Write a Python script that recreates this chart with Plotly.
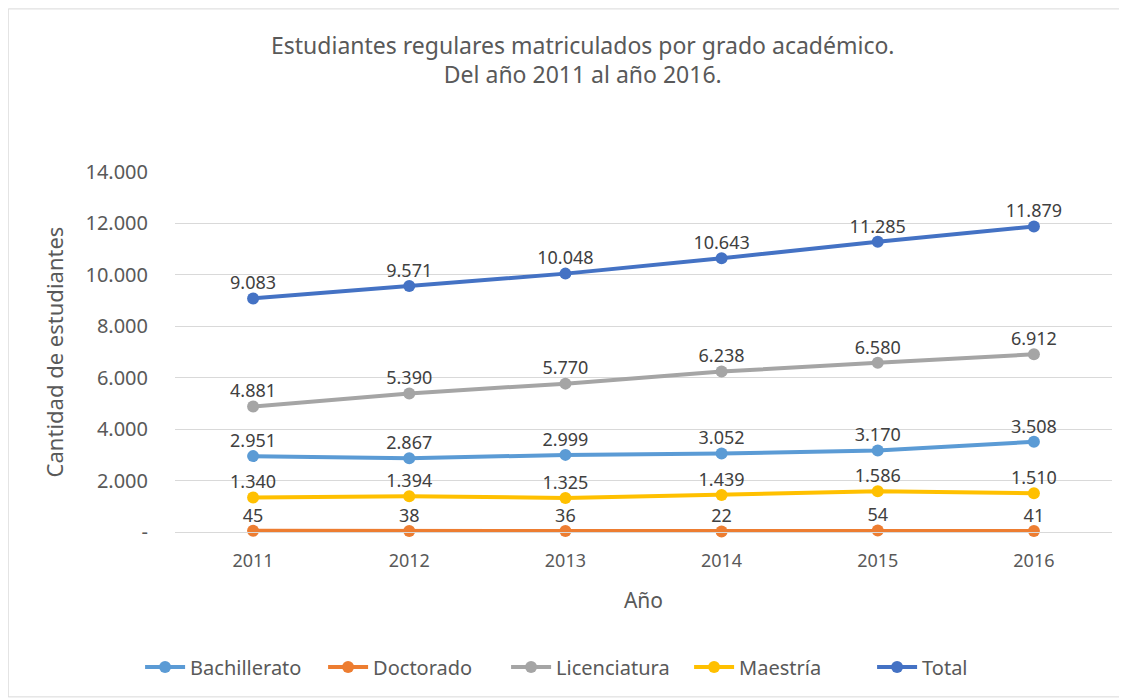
import plotly.graph_objects as go

years = ["2011", "2012", "2013", "2014", "2015", "2016"]
bachillerato = [2951, 2867, 2999, 3052, 3170, 3508]
doctorado = [45, 38, 36, 22, 54, 41]
licenciatura = [4881, 5390, 5770, 6238, 6580, 6912]
maestria = [1340, 1394, 1325, 1439, 1586, 1510]
total = [9083, 9571, 10048, 10643, 11285, 11879]

series = [
    ("Bachillerato", bachillerato, "#5B9BD5"),
    ("Doctorado", doctorado, "#ED7D31"),
    ("Licenciatura", licenciatura, "#A5A5A5"),
    ("Maestría", maestria, "#FFC000"),
    ("Total", total, "#4472C4"),
]

ytick_vals = [0, 2000, 4000, 6000, 8000, 10000, 12000, 14000]
ytick_text = ["-", "2.000", "4.000", "6.000", "8.000", "10.000", "12.000", "14.000"]

txt_font = "Noto Sans, Open Sans, sans-serif"
gray = "#595959"

fig = go.Figure()
for name, vals, color in series:
    fig.add_trace(go.Scatter(
        x=years, y=vals, name=name, mode="lines+markers",
        line=dict(color=color, width=4),
        marker=dict(color=color, size=12),
        cliponaxis=False,
    ))
for name, vals, color in series:
    fig.add_trace(go.Scatter(
        x=years, y=vals, name=name, mode="markers+text", showlegend=False,
        marker=dict(size=6, color="rgba(0,0,0,0)"),
        texttemplate="%{y:,}", textposition="top center",
        textfont=dict(family=txt_font, size=18, color="#404040"),
        cliponaxis=False, hoverinfo="skip",
    ))

fig.update_layout(
    width=1127, height=700,
    paper_bgcolor="white", plot_bgcolor="white",
    separators=",.",
    margin=dict(l=167, r=23, t=164, b=176, autoexpand=False),
    title=dict(
        text="Estudiantes regulares matriculados por grado académico.<br>Del año 2011 al año 2016.",
        x=0.51, xanchor="center", y=0.935, yanchor="top",
        font=dict(family=txt_font, size=23, color=gray),
    ),
    xaxis=dict(
        type="category", range=[-0.5, 5.5], automargin=False,
        showgrid=False, showline=True, linecolor="#D9D9D9", linewidth=1,
        ticks="", ticklabelstandoff=12, tickfont=dict(family=txt_font, size=18, color=gray),
        title=dict(text="Año", font=dict(family=txt_font, size=21, color=gray), standoff=22),
    ),
    yaxis=dict(
        range=[0, 14000], tickvals=ytick_vals, ticktext=ytick_text, automargin=False,
        showgrid=True, gridcolor="#D9D9D9", gridwidth=1, zeroline=False,
        ticks="", ticklabelstandoff=26,
        tickfont=dict(family=txt_font, size=20, color=gray),
        title=dict(text="Cantidad de estudiantes", font=dict(family=txt_font, size=22, color=gray), standoff=15),
    ),
    legend=dict(
        orientation="h", x=0.451, xanchor="center",
        y=-0.375, yanchor="middle",
        font=dict(family=txt_font, size=20, color=gray),
        itemwidth=40, entrywidth=128,
    ),
    shapes=[dict(type="rect", xref="paper", yref="paper", x0=-0.178, x1=1.0085, y0=-0.458, y1=1.453,
                 line=dict(color="#D9D9D9", width=1))],
)

fig.write_html("out.html")
